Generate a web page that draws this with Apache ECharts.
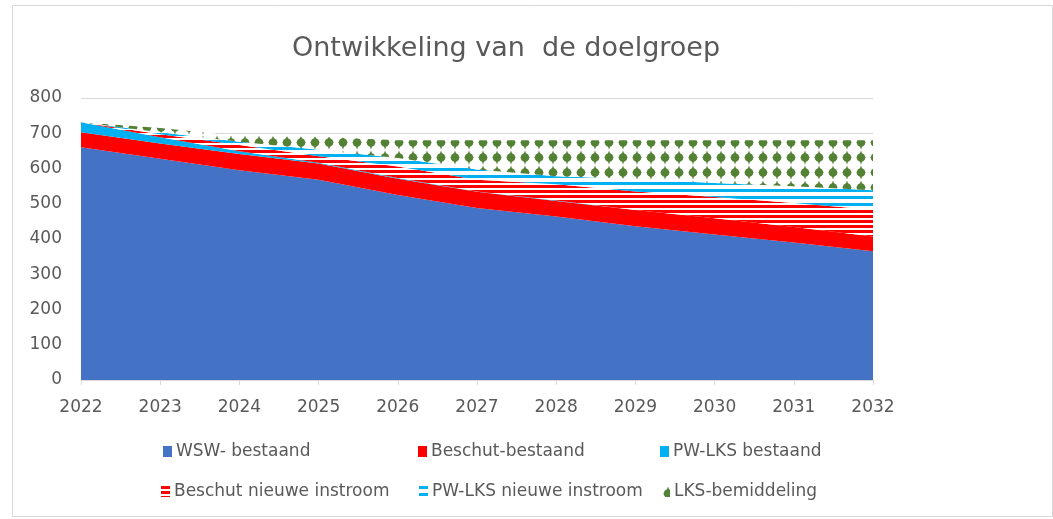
<!DOCTYPE html>
<html>
<head>
<meta charset="UTF-8">
<title>Ontwikkeling van de doelgroep</title>
<script src="https://cdn.jsdelivr.net/npm/echarts@6/dist/echarts.min.js"></script>
<style>
  html, body { margin: 0; padding: 0; background: #fff; }
  #chart { width: 1053px; height: 519px; }
</style>
</head>
<body>
<div id="chart"></div>
<script>
// jaren en waarden
var jaren = ['2022', '2023', '2024', '2025', '2026', '2027', '2028', '2029', '2030', '2031', '2032'];
var wswBestaand     = [660, 628, 595, 568, 525, 488, 464, 436, 413, 390, 365];
var beschutBestaand = [43, 43, 46, 46, 46, 46, 44, 46, 46, 44, 42];
var pwLksBestaand   = [28, 18, 8, 2, 2, 1, 1, 0, 0, 0, 0];
var beschutNieuw    = [0, 8, 18, 19, 33, 33, 46, 53, 60, 68, 76];
var pwLksNieuw      = [0, 6, 9, 18, 24, 29, 23, 35, 40, 48, 55];
var lksBemiddeling  = [0, 12, 16, 37, 50, 83, 102, 110, 121, 130, 142];
var yTicks = [0, 100, 200, 300, 400, 500, 600, 700, 800];

var tekstKleur = '#595959';
var lijnKleur = '#d9d9d9';
var font = '"DejaVu Sans", sans-serif';

// horizontale strepen (patroon)
function strepen(kleur, periode, dikte) {
    var c = document.createElement('canvas');
    c.width = 4; c.height = periode;
    var ctx = c.getContext('2d');
    ctx.fillStyle = '#fff';
    ctx.fillRect(0, 0, 4, periode);
    ctx.fillStyle = kleur;
    ctx.fillRect(0, 0, 4, dikte);
    return { image: c, repeat: 'repeat' };
}

// groene stippen met punten boven/onder
function stippen(kleur) {
    var w = 14, h = 15;
    var c = document.createElement('canvas');
    c.width = w; c.height = h;
    var ctx = c.getContext('2d');
    ctx.fillStyle = '#fff';
    ctx.fillRect(0, 0, w, h);
    ctx.fillStyle = kleur;
    ctx.beginPath();
    ctx.arc(7, 7.5, 4.3, 0, Math.PI * 2);
    ctx.fill();
    ctx.beginPath();
    ctx.moveTo(7, 0.5);
    ctx.lineTo(9.5, 7.5);
    ctx.lineTo(7, 14.5);
    ctx.lineTo(4.5, 7.5);
    ctx.closePath();
    ctx.fill();
    ctx.beginPath();
    ctx.moveTo(2.2, 7.5);
    ctx.lineTo(7, 5);
    ctx.lineTo(11.8, 7.5);
    ctx.lineTo(7, 10);
    ctx.closePath();
    ctx.fill();
    return { image: c, repeat: 'repeat' };
}

var roodStreep = strepen('#ff0000', 5, 3);
var blauwStreep = strepen('#00b0f0', 7, 3);
var groenStip = stippen('#548235');

function serie(naam, data, kleur) {
    return {
        name: naam,
        type: 'line',
        stack: 'totaal',
        data: data,
        symbol: 'none',
        silent: true,
        lineStyle: { width: 0 },
        itemStyle: { color: kleur },
        areaStyle: { color: kleur, opacity: 1 }
    };
}

function legendItem(naam, left, top) {
    return {
        data: [naam],
        left: left,
        top: top,
        padding: 0,
        icon: 'rect',
        itemWidth: 9,
        itemHeight: 11,
        itemGap: 0,
        selectedMode: false,
        textStyle: { color: tekstKleur, fontSize: 17, fontFamily: font, padding: [0, 0, 0, -1] }
    };
}

var chart = echarts.init(document.getElementById('chart'));
chart.setOption({
    animation: false,
    backgroundColor: '#fff',
    title: {
        text: 'Ontwikkeling van  de doelgroep',
        left: 501,
        top: 30,
        textAlign: 'center',
        textStyle: { color: tekstKleur, fontSize: 27, fontWeight: 'normal', fontFamily: font }
    },
    graphic: [{
        type: 'rect',
        shape: { x: 12.5, y: 5.5, width: 1040, height: 511 },
        style: { fill: 'none', stroke: lijnKleur, lineWidth: 1 },
        silent: true,
        z: -1
    }],
    legend: [
        legendItem('WSW- bestaand', 163, 443),
        legendItem('Beschut-bestaand', 418, 443),
        legendItem('PW-LKS bestaand', 660, 443),
        legendItem('Beschut nieuwe instroom', 161, 483),
        legendItem('PW-LKS nieuwe instroom', 419, 483),
        legendItem('LKS-bemiddeling', 661, 483)
    ],
    grid: { left: 81, right: 180, top: 98, bottom: 139 },
    xAxis: {
        type: 'category',
        boundaryGap: false,
        data: jaren,
        axisLine: { lineStyle: { color: lijnKleur, width: 1 } },
        axisTick: { show: true, length: 5, lineStyle: { color: lijnKleur } },
        axisLabel: { color: tekstKleur, fontSize: 17, fontFamily: font, margin: 19 }
    },
    yAxis: {
        type: 'value',
        min: yTicks[0],
        max: yTicks[yTicks.length - 1],
        interval: 100,
        axisLine: { show: false },
        axisTick: { show: false },
        axisLabel: { color: tekstKleur, fontSize: 17, fontFamily: font, margin: 19 },
        splitLine: { lineStyle: { color: lijnKleur, width: 1 } }
    },
    series: [
        serie('WSW- bestaand', wswBestaand, '#4472c4'),
        serie('Beschut-bestaand', beschutBestaand, '#ff0000'),
        serie('PW-LKS bestaand', pwLksBestaand, '#00b0f0'),
        serie('Beschut nieuwe instroom', beschutNieuw, roodStreep),
        serie('PW-LKS nieuwe instroom', pwLksNieuw, blauwStreep),
        serie('LKS-bemiddeling', lksBemiddeling, groenStip)
    ]
});
</script>
</body>
</html>
